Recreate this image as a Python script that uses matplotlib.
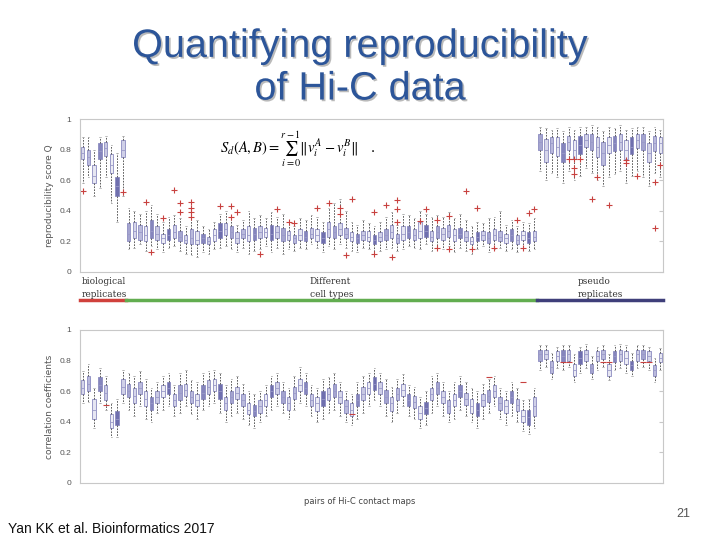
##  Hi-C reproducibility slide: two boxplot panels

import matplotlib.pyplot as plt
import matplotlib.patheffects as pe

plt.rcParams['font.family'] = ['Liberation Sans', 'DejaVu Sans']
plt.rcParams['mathtext.fontset'] = 'stix'

# each row: (whisker low, q1, median, q3, whisker high)
top_bio = [
    (0.58, 0.74, 0.78, 0.82, 0.88), (0.62, 0.70, 0.75, 0.80, 0.88),
    (0.50, 0.58, 0.63, 0.70, 0.80), (0.55, 0.74, 0.79, 0.84, 0.88),
    (0.62, 0.76, 0.81, 0.85, 0.89), (0.45, 0.65, 0.70, 0.77, 0.83),
    (0.33, 0.50, 0.56, 0.62, 0.78), (0.50, 0.75, 0.80, 0.86, 0.89),
]
top_diff = [
    (0.15, 0.20, 0.25, 0.32, 0.42), (0.16, 0.22, 0.27, 0.33, 0.40), (0.18, 0.21, 0.26, 0.31, 0.38),
    (0.14, 0.20, 0.24, 0.30, 0.40), (0.17, 0.22, 0.27, 0.34, 0.44), (0.15, 0.21, 0.25, 0.30, 0.38),
    (0.13, 0.19, 0.22, 0.25, 0.33), (0.16, 0.21, 0.24, 0.28, 0.36), (0.17, 0.22, 0.26, 0.31, 0.37),
    (0.14, 0.20, 0.23, 0.27, 0.35), (0.12, 0.19, 0.21, 0.24, 0.30), (0.11, 0.18, 0.22, 0.28, 0.36),
    (0.10, 0.18, 0.21, 0.27, 0.34), (0.13, 0.19, 0.22, 0.25, 0.30), (0.12, 0.18, 0.20, 0.23, 0.28),
    (0.15, 0.20, 0.24, 0.28, 0.33), (0.16, 0.22, 0.27, 0.32, 0.38), (0.17, 0.24, 0.28, 0.32, 0.40),
    (0.15, 0.22, 0.26, 0.30, 0.36), (0.13, 0.19, 0.22, 0.26, 0.31), (0.16, 0.22, 0.25, 0.28, 0.34),
    (0.12, 0.20, 0.24, 0.30, 0.40), (0.14, 0.21, 0.25, 0.29, 0.35), (0.15, 0.22, 0.26, 0.30, 0.37),
    (0.17, 0.23, 0.26, 0.29, 0.35), (0.13, 0.21, 0.25, 0.31, 0.39), (0.16, 0.22, 0.26, 0.30, 0.36),
    (0.12, 0.20, 0.24, 0.29, 0.38), (0.15, 0.21, 0.24, 0.27, 0.33), (0.14, 0.19, 0.22, 0.24, 0.30),
    (0.16, 0.21, 0.24, 0.28, 0.35), (0.15, 0.20, 0.23, 0.27, 0.34), (0.18, 0.22, 0.25, 0.29, 0.37),
    (0.16, 0.20, 0.24, 0.28, 0.36), (0.13, 0.19, 0.22, 0.26, 0.33), (0.17, 0.23, 0.28, 0.33, 0.42),
    (0.15, 0.22, 0.26, 0.30, 0.45), (0.18, 0.24, 0.28, 0.32, 0.48), (0.16, 0.22, 0.25, 0.29, 0.40),
    (0.14, 0.20, 0.23, 0.26, 0.33), (0.13, 0.19, 0.22, 0.25, 0.31), (0.16, 0.21, 0.24, 0.27, 0.34),
    (0.15, 0.20, 0.23, 0.27, 0.32), (0.12, 0.18, 0.21, 0.24, 0.30), (0.14, 0.20, 0.23, 0.26, 0.33),
    (0.15, 0.21, 0.24, 0.28, 0.36), (0.16, 0.22, 0.26, 0.31, 0.39), (0.14, 0.19, 0.22, 0.25, 0.31),
    (0.15, 0.21, 0.25, 0.30, 0.38), (0.17, 0.22, 0.26, 0.30, 0.37), (0.16, 0.21, 0.24, 0.28, 0.35),
    (0.15, 0.22, 0.27, 0.33, 0.40), (0.18, 0.23, 0.27, 0.31, 0.38), (0.14, 0.20, 0.23, 0.27, 0.36),
    (0.16, 0.22, 0.26, 0.30, 0.37), (0.15, 0.21, 0.25, 0.29, 0.36), (0.17, 0.23, 0.27, 0.31, 0.39),
    (0.13, 0.20, 0.24, 0.28, 0.35), (0.16, 0.22, 0.25, 0.29, 0.38), (0.14, 0.20, 0.23, 0.27, 0.34),
    (0.12, 0.18, 0.20, 0.23, 0.30), (0.15, 0.20, 0.23, 0.26, 0.33), (0.17, 0.21, 0.24, 0.27, 0.32),
    (0.13, 0.19, 0.22, 0.26, 0.35), (0.15, 0.21, 0.24, 0.28, 0.36), (0.16, 0.20, 0.23, 0.27, 0.40),
    (0.14, 0.19, 0.22, 0.25, 0.31), (0.15, 0.20, 0.24, 0.28, 0.34), (0.13, 0.18, 0.21, 0.24, 0.30),
    (0.16, 0.21, 0.24, 0.27, 0.33), (0.14, 0.19, 0.22, 0.26, 0.32), (0.15, 0.20, 0.23, 0.27, 0.35),
]
top_pseudo = [
    (0.66, 0.80, 0.85, 0.90, 0.95), (0.60, 0.72, 0.80, 0.87, 0.94), (0.65, 0.78, 0.84, 0.88, 0.93),
    (0.62, 0.76, 0.82, 0.88, 0.94), (0.58, 0.72, 0.78, 0.84, 0.92), (0.66, 0.80, 0.85, 0.89, 0.95),
    (0.60, 0.74, 0.80, 0.86, 0.93), (0.63, 0.77, 0.83, 0.89, 0.95), (0.68, 0.82, 0.86, 0.90, 0.95),
    (0.65, 0.80, 0.85, 0.90, 0.96), (0.60, 0.75, 0.82, 0.88, 0.95), (0.56, 0.70, 0.78, 0.85, 0.92),
    (0.62, 0.78, 0.83, 0.88, 0.95), (0.64, 0.79, 0.84, 0.89, 0.94), (0.66, 0.80, 0.85, 0.90, 0.96),
    (0.58, 0.74, 0.80, 0.86, 0.93), (0.63, 0.77, 0.82, 0.88, 0.94), (0.66, 0.81, 0.86, 0.90, 0.95),
    (0.62, 0.80, 0.85, 0.90, 0.95), (0.56, 0.72, 0.78, 0.84, 0.92), (0.65, 0.79, 0.84, 0.89, 0.95),
    (0.62, 0.78, 0.84, 0.88, 0.93),
]
# outliers: (box position, value)
top_out = [
    (1, 0.53), (8, 0.52), (12, 0.46), (13, 0.13), (15, 0.355), (17, 0.535), (18, 0.45), (18, 0.39),
    (20, 0.46), (20, 0.42), (20, 0.39), (20, 0.36), (25, 0.43), (27, 0.43), (27, 0.36), (28, 0.39),
    (32, 0.12), (35, 0.41), (37, 0.33), (38, 0.32), (42, 0.42), (44, 0.45), (46, 0.42), (46, 0.38),
    (47, 0.11), (48, 0.48), (52, 0.39), (52, 0.12), (54, 0.44), (55, 0.10), (56, 0.47), (56, 0.41),
    (56, 0.33), (60, 0.335), (61, 0.41), (63, 0.34), (63, 0.16), (65, 0.365), (65, 0.15), (68, 0.53),
    (69, 0.15), (70, 0.42), (73, 0.16), (77, 0.34), (78, 0.16), (79, 0.385), (80, 0.41),
    (87, 0.68), (87, 0.64), (86, 0.74), (87, 0.74), (88, 0.74), (90, 0.48), (91, 0.62), (93, 0.44),
    (96, 0.71), (96, 0.73), (98, 0.63), (101, 0.59), (101, 0.29), (102, 0.70),
]

bot_bio = [
    (0.52, 0.58, 0.62, 0.67, 0.73), (0.53, 0.60, 0.65, 0.70, 0.78),
    (0.36, 0.42, 0.48, 0.55, 0.62), (0.52, 0.60, 0.64, 0.69, 0.75),
    (0.48, 0.54, 0.59, 0.64, 0.70), (0.30, 0.36, 0.40, 0.45, 0.52),
    (0.30, 0.38, 0.42, 0.47, 0.55), (0.52, 0.58, 0.63, 0.68, 0.74),
]
bot_diff = [
    (0.48, 0.56, 0.60, 0.65, 0.72), (0.44, 0.52, 0.57, 0.62, 0.70), (0.50, 0.58, 0.62, 0.66, 0.73),
    (0.42, 0.50, 0.55, 0.60, 0.68), (0.40, 0.48, 0.52, 0.56, 0.62), (0.46, 0.52, 0.56, 0.60, 0.66),
    (0.48, 0.56, 0.60, 0.64, 0.70), (0.50, 0.58, 0.62, 0.66, 0.72), (0.44, 0.50, 0.54, 0.58, 0.64),
    (0.46, 0.54, 0.59, 0.64, 0.72), (0.50, 0.57, 0.61, 0.65, 0.74), (0.45, 0.52, 0.56, 0.60, 0.67),
    (0.42, 0.50, 0.54, 0.58, 0.66), (0.48, 0.55, 0.59, 0.64, 0.72), (0.50, 0.58, 0.63, 0.67, 0.73),
    (0.52, 0.60, 0.64, 0.68, 0.74), (0.46, 0.55, 0.60, 0.65, 0.72), (0.40, 0.48, 0.52, 0.56, 0.64),
    (0.44, 0.52, 0.56, 0.60, 0.68), (0.46, 0.55, 0.59, 0.63, 0.70), (0.42, 0.50, 0.54, 0.58, 0.65),
    (0.38, 0.45, 0.48, 0.52, 0.60), (0.36, 0.44, 0.47, 0.51, 0.58), (0.40, 0.46, 0.50, 0.54, 0.60),
    (0.44, 0.50, 0.54, 0.58, 0.64), (0.48, 0.56, 0.60, 0.64, 0.70), (0.50, 0.58, 0.62, 0.66, 0.72),
    (0.46, 0.52, 0.56, 0.60, 0.66), (0.42, 0.48, 0.52, 0.56, 0.62), (0.48, 0.55, 0.59, 0.63, 0.70),
    (0.52, 0.60, 0.64, 0.68, 0.76), (0.50, 0.58, 0.62, 0.66, 0.72), (0.44, 0.50, 0.54, 0.58, 0.64),
    (0.40, 0.47, 0.52, 0.56, 0.62), (0.42, 0.50, 0.55, 0.60, 0.68), (0.46, 0.54, 0.58, 0.62, 0.69),
    (0.48, 0.56, 0.60, 0.65, 0.72), (0.44, 0.52, 0.56, 0.60, 0.66), (0.40, 0.46, 0.50, 0.54, 0.60),
    (0.38, 0.44, 0.48, 0.52, 0.58), (0.42, 0.50, 0.54, 0.58, 0.66), (0.46, 0.54, 0.58, 0.63, 0.70),
    (0.50, 0.58, 0.62, 0.66, 0.72), (0.54, 0.61, 0.65, 0.69, 0.75), (0.50, 0.58, 0.62, 0.66, 0.72),
    (0.44, 0.52, 0.56, 0.61, 0.68), (0.40, 0.47, 0.52, 0.56, 0.63), (0.46, 0.54, 0.58, 0.62, 0.68),
    (0.50, 0.57, 0.61, 0.65, 0.71), (0.44, 0.50, 0.54, 0.58, 0.64), (0.42, 0.49, 0.53, 0.57, 0.63),
    (0.36, 0.42, 0.46, 0.50, 0.56), (0.38, 0.45, 0.49, 0.53, 0.60), (0.46, 0.54, 0.58, 0.62, 0.70),
    (0.50, 0.58, 0.62, 0.66, 0.72), (0.44, 0.52, 0.56, 0.60, 0.66), (0.40, 0.46, 0.50, 0.54, 0.60),
    (0.42, 0.50, 0.54, 0.58, 0.66), (0.48, 0.56, 0.60, 0.64, 0.70), (0.44, 0.51, 0.55, 0.59, 0.66),
    (0.40, 0.46, 0.50, 0.55, 0.62), (0.36, 0.44, 0.48, 0.52, 0.60), (0.42, 0.50, 0.54, 0.58, 0.65),
    (0.46, 0.53, 0.57, 0.61, 0.68), (0.50, 0.56, 0.60, 0.64, 0.70), (0.42, 0.48, 0.52, 0.56, 0.62),
    (0.38, 0.46, 0.50, 0.54, 0.60), (0.44, 0.52, 0.56, 0.60, 0.66), (0.40, 0.47, 0.51, 0.55, 0.62),
    (0.34, 0.40, 0.44, 0.48, 0.54), (0.32, 0.38, 0.43, 0.48, 0.55), (0.36, 0.44, 0.50, 0.56, 0.62),
]
bot_pseudo = [
    (0.74, 0.80, 0.84, 0.87, 0.90), (0.76, 0.81, 0.84, 0.87, 0.90), (0.68, 0.72, 0.76, 0.80, 0.85),
    (0.75, 0.80, 0.83, 0.86, 0.89), (0.74, 0.79, 0.83, 0.87, 0.90), (0.76, 0.80, 0.84, 0.87, 0.90),
    (0.66, 0.70, 0.74, 0.78, 0.84), (0.72, 0.78, 0.82, 0.86, 0.89), (0.75, 0.80, 0.84, 0.87, 0.91),
    (0.68, 0.72, 0.75, 0.78, 0.83), (0.74, 0.80, 0.83, 0.86, 0.89), (0.76, 0.81, 0.84, 0.87, 0.90),
    (0.67, 0.70, 0.74, 0.78, 0.84), (0.74, 0.79, 0.83, 0.86, 0.90), (0.75, 0.80, 0.84, 0.87, 0.91),
    (0.72, 0.78, 0.82, 0.86, 0.90), (0.70, 0.74, 0.77, 0.80, 0.85), (0.75, 0.80, 0.84, 0.87, 0.90),
    (0.76, 0.81, 0.84, 0.87, 0.90), (0.74, 0.80, 0.83, 0.86, 0.89), (0.66, 0.70, 0.74, 0.77, 0.82),
    (0.74, 0.79, 0.82, 0.85, 0.88),
]
bot_out = [(5, 0.51), (48, 0.45), (72, 0.69), (78, 0.66), (85, 0.79), (86, 0.79),
           (92, 0.79), (93, 0.79), (99, 0.79), (100, 0.79)]

groups = ['biological\nreplicates', 'Different\ncell types', 'pseudo\nreplicates']
yticks = [0, 0.2, 0.4, 0.6, 0.8, 1]
ytick_labels = ['0', '0.2', '0.4', '0.6', '0.8', '1']

shades = ['#d6d6ea', '#b9b9dc', '#e6e6f2', '#8585bd', '#c8c8e3',
          '#ececf5', '#6f6fae', '#d0d0e8', '#a4a4cf']
grey = '#c8c8c8'


def draw_panel(ax, rows, outs, marker, ylabel):
    stats = [dict(whislo=r[0], q1=r[1], med=r[2], q3=r[3], whishi=r[4], fliers=[]) for r in rows]
    pos = list(range(1, len(stats) + 1))
    art = ax.bxp(stats, positions=pos, widths=0.6, patch_artist=True, showfliers=False,
                 boxprops=dict(edgecolor='#8c8cc0', linewidth=0.6),
                 whiskerprops=dict(color='#444444', linestyle=(0, (2, 1.5)), linewidth=0.6),
                 capprops=dict(color='#aaaaaa', linewidth=0.5),
                 medianprops=dict(color='#9a9ac8', linewidth=0.6), capwidths=0.3)
    for i, b in enumerate(art['boxes']):
        b.set_facecolor(shades[i % len(shades)])
    ax.plot([o[0] for o in outs], [o[1] for o in outs], linestyle='none', marker=marker,
            color='#c8413f', markersize=5, markeredgewidth=0.8)
    ax.set_xlim(0.5, len(stats) + 0.5)
    ax.set_ylim(0, 1)
    ax.set_xticks([])
    ax.set_yticks(yticks)
    ax.set_yticklabels(ytick_labels)
    ax.tick_params(axis='y', direction='in', length=3, color=grey, labelsize=6,
                   labelcolor='#555555', left=False, right=True, pad=6)
    for s in ax.spines.values():
        s.set_color(grey)
        s.set_linewidth(0.8)
    ax.set_ylabel(ylabel, fontsize=6.5, color='#555555', family='DejaVu Sans', labelpad=4)


fig = plt.figure(figsize=(7.2, 5.4), dpi=100)

for i, line in enumerate(['Quantifying reproducibility', 'of Hi-C data']):
    fig.text(0.5, [0.915, 0.836][i], line, ha='center', va='center', fontsize=28.5,
             color='#2c5599',
             path_effects=[pe.SimplePatchShadow(offset=(1.2, -1.2), shadow_rgbFace='#777777', alpha=0.5),
                           pe.Normal()])

ax1 = fig.add_axes([0.111, 0.4963, 0.810, 0.2833])
top_rows = top_bio + top_diff + top_pseudo
draw_panel(ax1, top_rows, top_out, '+', 'reproducibility score Q')
ax1.text(0.24, 0.80, r'$S_d(A,B) = \sum_{i=0}^{r-1} \Vert v_i^A - v_i^B \Vert$   .',
         transform=ax1.transAxes, fontsize=10.5, va='center', ha='left')

# group bars and labels under the top panel
b1 = len(top_bio) + 0.5
b2 = len(top_bio) + len(top_diff) + 0.5
tr = ax1.get_xaxis_transform()
ax1.plot([0.5, b1], [-0.183, -0.183], color='#d0413c', lw=2.5, transform=tr, clip_on=False)
ax1.plot([b1, b2], [-0.183, -0.183], color='#62ad50', lw=2.5, transform=tr, clip_on=False)
ax1.plot([b2, len(top_rows) + 0.5], [-0.183, -0.183], color='#3f3f7a', lw=2.5, transform=tr, clip_on=False)
for x, g in zip([0.85, 40.7, 87.6], groups):
    ax1.text(x, -0.105, g, transform=tr, fontsize=6.5, color='#333333', va='center', ha='left',
             family='DejaVu Serif', linespacing=1.5)

ax2 = fig.add_axes([0.111, 0.1056, 0.810, 0.2833])
draw_panel(ax2, bot_bio + bot_diff + bot_pseudo, bot_out, '_', 'correlation coefficients')

fig.text(0.5, 1 - 501 / 540, 'pairs of Hi-C contact maps', ha='center', va='center',
         fontsize=6, color='#444444', family='DejaVu Sans')
fig.text(8 / 720, 1 - 529 / 540, 'Yan KK et al. Bioinformatics 2017', ha='left', va='center',
         fontsize=10, color='#111111')
fig.text(690 / 720, 1 - 514 / 540, '21', ha='right', va='center', fontsize=9, color='#555555')

plt.savefig('out.png', dpi=100)
